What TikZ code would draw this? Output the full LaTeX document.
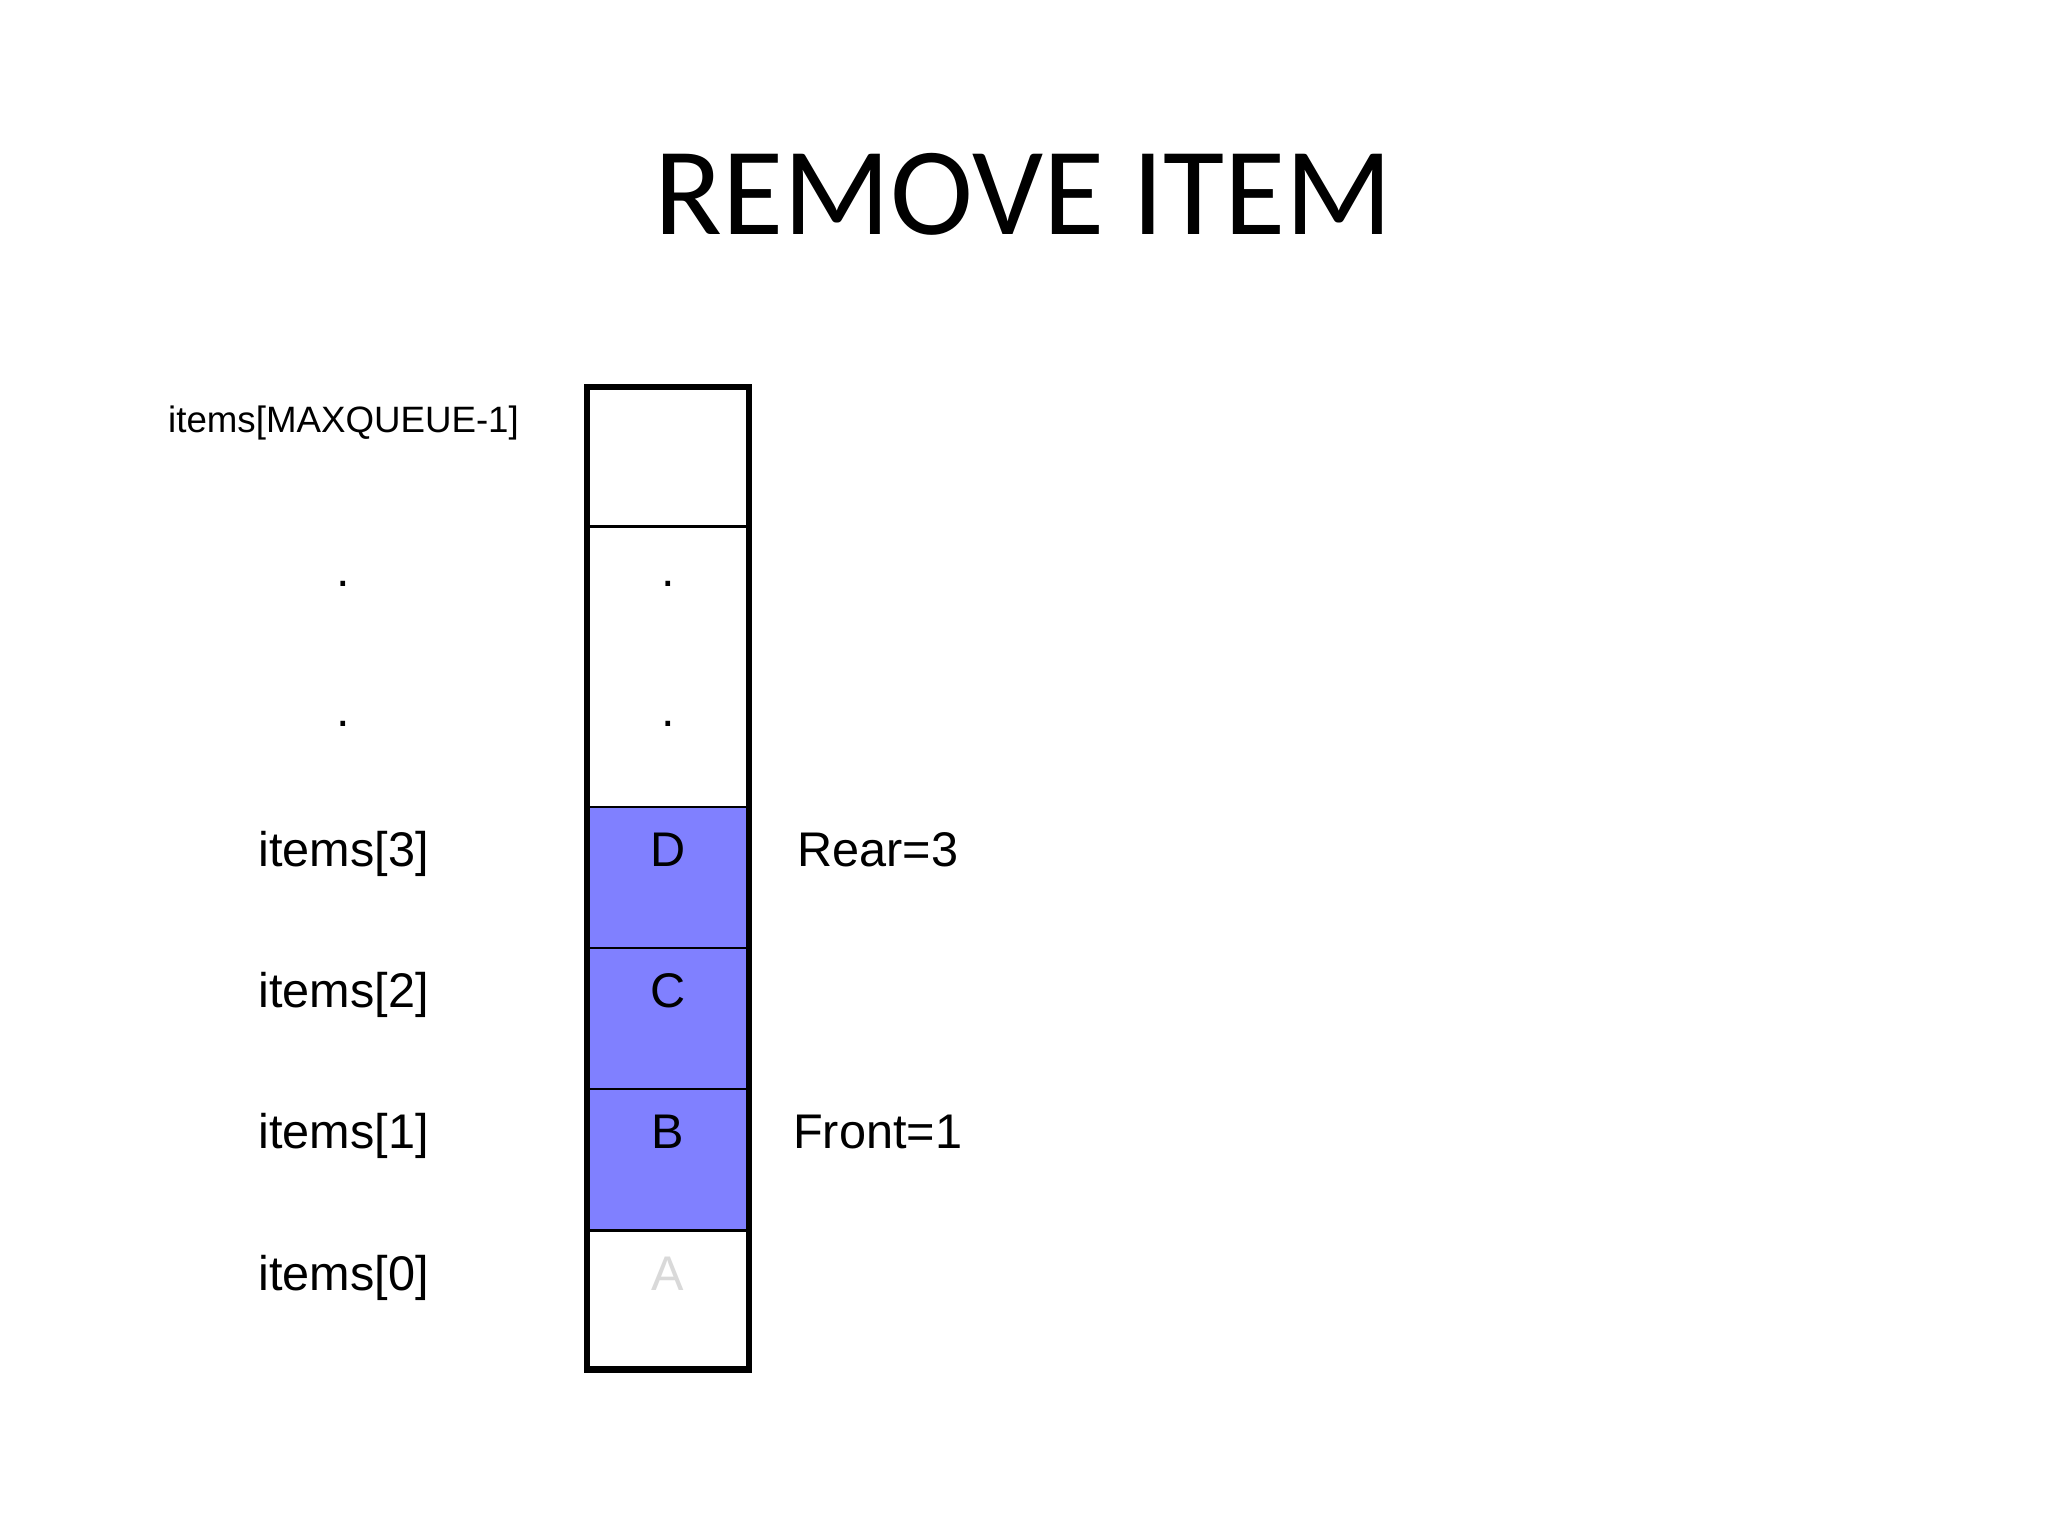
\documentclass[tikz,border=0pt]{standalone}
\usepackage{fontspec}
\setmainfont{Liberation Sans}
\newfontfamily\titlefont{Carlito}
\definecolor{cellblue}{HTML}{8080FF}
\definecolor{ghost}{HTML}{D9D9D9}
\begin{document}
\begin{tikzpicture}[x=0.3515625pt,y=-0.3515625pt,
  lbl/.style={inner sep=0pt,anchor=base,font=\fontsize{17.1}{20}\selectfont},
  smalllbl/.style={inner sep=0pt,anchor=base,font=\fontsize{12.9}{15}\selectfont},
  divider/.style={line width=0.8pt},
  frame/.style={line width=2.2pt}]
\useasboundingbox (0,0) rectangle (2048,1536);
% fills
\fill[white] (0,0) rectangle (2048,1536);
\fill[cellblue] (587.1,807.2) rectangle (749.1,1230.4);
% dividers
\draw[divider] (587.1,526.4) -- (749.1,526.4);
\draw[divider] (587.1,807.2) -- (749.1,807.2);
\draw[divider] (587.1,948.2) -- (749.1,948.2);
\draw[divider] (587.1,1089.3) -- (749.1,1089.3);
\draw[divider] (587.1,1230.4) -- (749.1,1230.4);
% frame
\draw[frame] (587.1,387.3) rectangle (749.1,1369.5);
% title
\node[inner sep=0pt,anchor=base,font=\titlefont\fontsize{44}{50}\selectfont] (title) at (1024,235) {REMOVE ITEM};
% left labels
\node[smalllbl] (lmax) at (343.5,432.4) {items[MAXQUEUE-1]};
\node[lbl] (ldot1) at (343.5,586.5) {.};
\node[lbl] (ldot2) at (343.5,726) {.};
\node[lbl] (l3) at (343.5,866.8) {items[3]};
\node[lbl] (l2) at (343.5,1007.9) {items[2]};
\node[lbl] (l1) at (343.5,1148.9) {items[1]};
\node[lbl] (l0) at (343.5,1290.0) {items[0]};
% cell contents
\node[lbl] (cdot1) at (668.1,586.5) {.};
\node[lbl] (cdot2) at (668.1,726) {.};
\node[lbl] (cD) at (668.1,866.8) {D};
\node[lbl] (cC) at (668.1,1007.9) {C};
\node[lbl] (cB) at (668.1,1148.9) {B};
\node[lbl,text=ghost] (cA) at (668.1,1290.0) {A};
% right labels
\node[lbl] (rear) at (878,866.8) {Rear=3};
\node[lbl] (front) at (877.7,1148.9) {Front=1};
\end{tikzpicture}
\end{document}
